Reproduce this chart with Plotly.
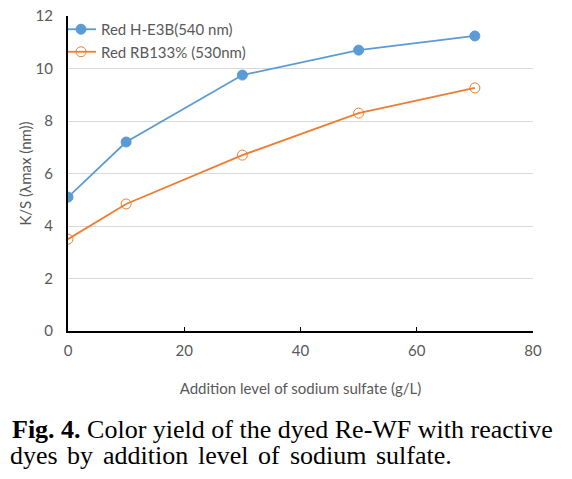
import plotly.graph_objects as go

x_vals = [0, 10, 30, 50, 70]
blue_vals = [5.1, 7.2, 9.75, 10.7, 11.24]
orange_vals = [3.5, 4.84, 6.7, 8.3, 9.26]
series_names = ["Red H-E3B(540 nm)", "Red RB133% (530nm)"]
x_ticks = [0, 20, 40, 60, 80]
y_ticks = [0, 2, 4, 6, 8, 10, 12]

caption_line1 = "<b>Fig. 4.</b> Color yield of the dyed Re-WF with reactive"
caption_line2 = ["dyes", "by", "addition", "level", "of", "sodium", "sulfate."]
caption_line2_px = [10, 67, 103, 198, 258, 290, 376]

# page has an 8px body margin; figure size is the visible area
OFF = 8
W, H = 572 - OFF, 479 - OFF
L, R, T, B = 60, 39, 8, 148
pw, ph = W - L - R, H - T - B


def px_x(page_x):
    return (page_x - OFF - L) / pw


def px_y(page_y):
    return (H - B - (page_y - OFF)) / ph


fig = go.Figure()
fig.add_trace(go.Scatter(
    x=x_vals, y=blue_vals, name=series_names[0], mode="lines+markers",
    line=dict(color="#5B9BD5", width=1.8),
    marker=dict(symbol="circle", size=10, color="#5B9BD5", line=dict(color="#5B9BD5", width=1)),
))
fig.add_trace(go.Scatter(
    x=x_vals, y=orange_vals, name=series_names[1], mode="lines+markers",
    line=dict(color="#ED7D31", width=1.8),
    marker=dict(symbol="circle-open", size=10, color="#ED7D31", line=dict(color="#ED7D31", width=1)),
))

font_family = "Lato, 'Open Sans', sans-serif"
serif = "'Liberation Serif', 'Times New Roman', serif"
gray = "#595959"
fs = 15

annotations = [dict(
    text=caption_line1, xref="paper", yref="paper",
    x=px_x(12 - 2), y=px_y(429), xanchor="left", yanchor="middle",
    showarrow=False, font=dict(family=serif, size=26, color="black"))]
for word, px in zip(caption_line2, caption_line2_px):
    annotations.append(dict(
        text=word, xref="paper", yref="paper",
        x=px_x(px - 2), y=px_y(455), xanchor="left", yanchor="middle",
        showarrow=False, font=dict(family=serif, size=26, color="black")))

fig.update_layout(
    width=W, height=H,
    margin=dict(l=L, r=R, t=T, b=B, autoexpand=False),
    paper_bgcolor="white", plot_bgcolor="white",
    font=dict(family=font_family, size=fs, color=gray),
    showlegend=True,
    legend=dict(x=0, y=px_y(13), xanchor="left", yanchor="top", indentation=-7,
                bgcolor="rgba(0,0,0,0)", font=dict(family=font_family, size=fs, color=gray),
                tracegroupgap=2),
    xaxis=dict(range=[0, 80], tickvals=x_ticks, showgrid=False, zeroline=False,
               showline=True, linecolor="black", linewidth=2, automargin=False,
               ticks="inside", ticklen=4, tickcolor="black", tickwidth=1,
               tickfont=dict(size=fs, color=gray), ticklabelstandoff=5,
               ticklabeloverflow="allow",
               title=dict(text="Addition level of sodium sulfate (g/L)", standoff=25,
                          font=dict(size=fs, color=gray))),
    yaxis=dict(range=[0, 12], tickvals=y_ticks, showgrid=True, gridcolor="#D9D9D9", gridwidth=1,
               zeroline=False, showline=True, linecolor="black", linewidth=2, automargin=False,
               ticks="", tickfont=dict(size=fs, color=gray), ticklabelstandoff=10,
               ticklabeloverflow="allow",
               title=dict(text="K/S (λmax (nm))", standoff=0, font=dict(size=fs, color=gray))),
    annotations=annotations,
)

fig.write_html("out.html")
